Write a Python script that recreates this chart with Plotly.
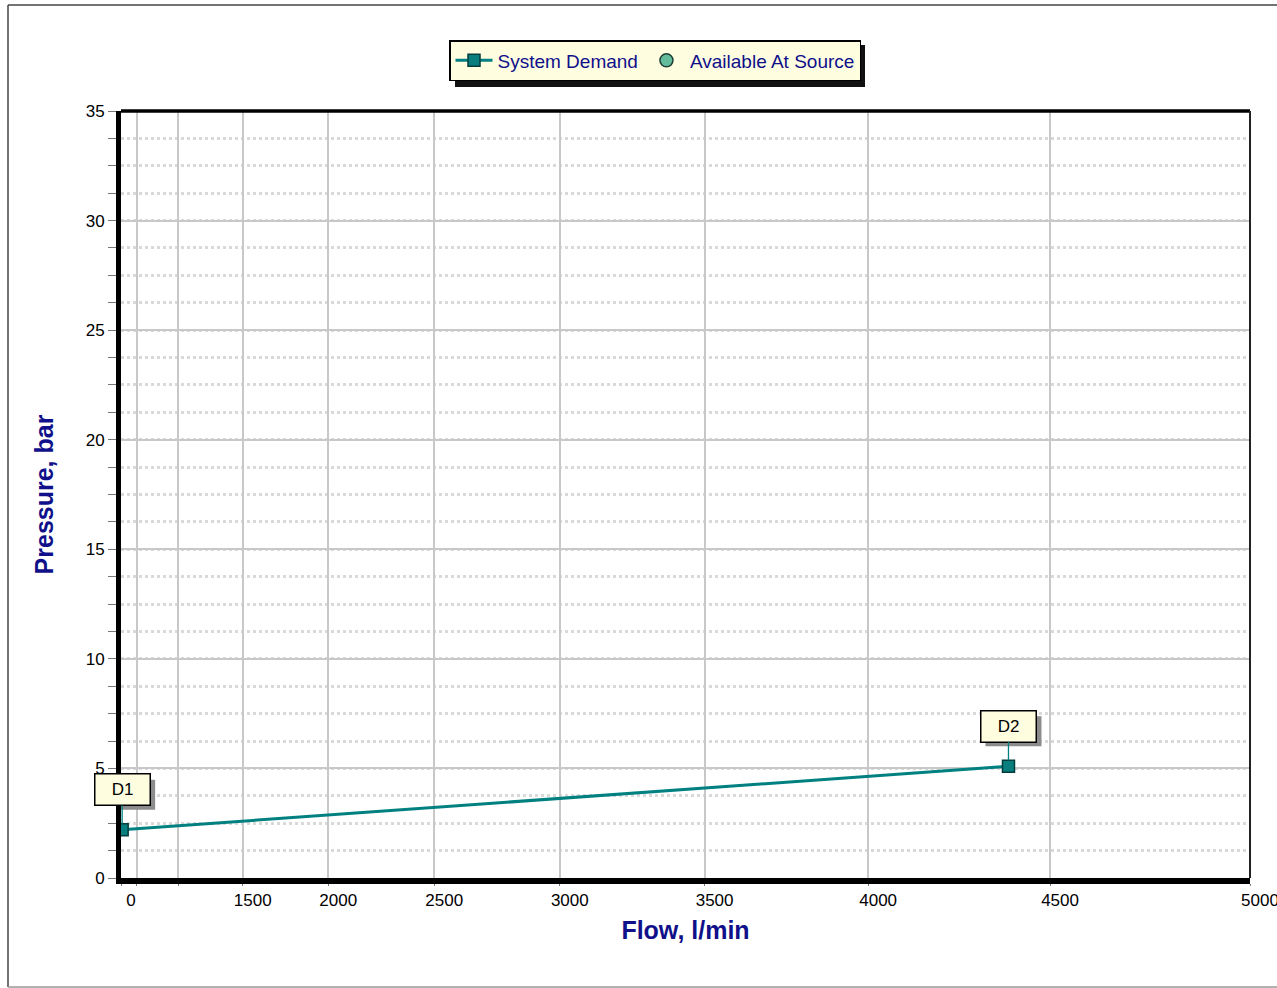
import plotly.graph_objects as go

# data
flow = [120, 4390]          # l/min
pressure = [2.2, 5.1]       # bar
point_labels = ['D1', 'D2']
flow_ticks = [0, 500, 1000, 1500, 2000, 2500, 3000, 3500, 4000, 4500, 5000]
flow_tick_text = ['0', '', '', '1500', '2000', '2500', '3000', '3500', '4000', '4500', '5000']
pressure_ticks = [0, 5, 10, 15, 20, 25, 30, 35]

EXP = 1.85  # hydraulic graph paper, x ~ Q^1.85
W, H = 1277, 988
ML, MR, MT, MB = 121, 27, 111, 110
PW, PH = W - ML - MR, H - MT - MB
NAVY = '#10108a'
TEAL = '#008080'
CREAM = '#fffde0'
FONT = 'Arial, Liberation Sans'


def tx(q):
    return [v ** EXP for v in q]


def px_x(p):  # pixel -> paper
    return (p - ML) / PW


def px_y(p):
    return (H - MB - p) / PH


fig = go.Figure()
fig.add_trace(go.Scatter(
    x=tx(flow), y=pressure, mode='lines+markers', name='System Demand',
    line=dict(color=TEAL, width=3),
    marker=dict(symbol='square', size=12, color='#087e7e', line=dict(color='#023c3c', width=1.5)),
))
fig.add_trace(go.Scatter(
    x=[None], y=[None], mode='markers', name='Available At Source',
    marker=dict(symbol='circle', size=13, color='#62bc9c', line=dict(color='#1e3e34', width=1.5)),
))

shapes = [
    # legend shadow
    dict(type='rect', xref='paper', yref='paper', x0=px_x(455), x1=px_x(865), y0=px_y(87), y1=px_y(45),
         fillcolor='#111111', line=dict(width=0)),
    # top and right border of plot area
    dict(type='line', xref='paper', yref='paper', x0=0, x1=1, y0=1, y1=1, line=dict(color='black', width=3.5)),
    dict(type='line', xref='paper', yref='paper', x0=1, x1=1, y0=0, y1=1, line=dict(color='#222222', width=2)),
    # outer frame
    dict(type='line', xref='paper', yref='paper', x0=px_x(8), x1=px_x(8), y0=px_y(5), y1=px_y(987),
         line=dict(color='#444444', width=1.5)),
    dict(type='line', xref='paper', yref='paper', x0=px_x(8), x1=px_x(1290), y0=px_y(5), y1=px_y(5),
         line=dict(color='#444444', width=1.5)),
    dict(type='line', xref='paper', yref='paper', x0=px_x(8), x1=px_x(1290), y0=px_y(987), y1=px_y(987),
         line=dict(color='#999999', width=1.5)),
]

# point callouts with drop shadow
for q, p, lab in zip(tx(flow), pressure, point_labels):
    shapes.append(dict(type='rect', xref='x', yref='y', xsizemode='pixel', ysizemode='pixel',
                       xanchor=q, yanchor=p, x0=-23, x1=33, y0=20, y1=50,
                       fillcolor='#8c8c8c', line=dict(width=0)))
    fig.add_annotation(x=q, y=p, text=lab, showarrow=True, ax=0, ay=-40, arrowhead=0,
                       arrowcolor=TEAL, arrowwidth=1.3, standoff=6,
                       width=50, height=26, borderpad=2, borderwidth=1.5,
                       bgcolor=CREAM, bordercolor='black',
                       font=dict(size=17, family=FONT, color='black'))

fig.update_layout(
    width=W, height=H,
    margin=dict(l=ML, r=MR, t=MT, b=MB, autoexpand=False),
    plot_bgcolor='white', paper_bgcolor='white',
    font=dict(family=FONT, size=17, color='black'),
    shapes=shapes,
    legend=dict(
        orientation='h', x=px_x(655), xanchor='center', y=px_y(40), yanchor='top',
        bgcolor=CREAM, bordercolor='black', borderwidth=1.5,
        font=dict(size=19, color=NAVY), itemwidth=37,
    ),
)
fig.update_xaxes(
    range=[0, 5000 ** EXP], tickvals=tx(flow_ticks), ticktext=flow_tick_text,
    ticks='outside', ticklen=2, tickcolor='#777777', ticklabelshift=10, ticklabeloverflow='allow',
    showline=True, linewidth=6, linecolor='black', automargin=False,
    showgrid=True, gridcolor='#c8c8c8', gridwidth=2, zeroline=False,
    title=dict(text='<b>Flow, l/min</b>', font=dict(size=25, color=NAVY), standoff=14),
)
fig.update_yaxes(
    range=[0, 35], tickvals=pressure_ticks,
    ticks='outside', ticklen=8, tickcolor='#777777',
    showline=True, linewidth=5, linecolor='black', automargin=False,
    showgrid=True, gridcolor='#c8c8c8', gridwidth=2, zeroline=False,
    minor=dict(dtick=1.25, ticks='outside', ticklen=8, tickcolor='#777777',
               showgrid=True, gridcolor='#d9d9d9', gridwidth=3, griddash='dot'),
    title=dict(text='<b>Pressure, bar</b>', font=dict(size=25, color=NAVY), standoff=26),
)

fig.write_html('out.html', config={'displayModeBar': False},
               post_script="document.body.style.margin='0px';")
